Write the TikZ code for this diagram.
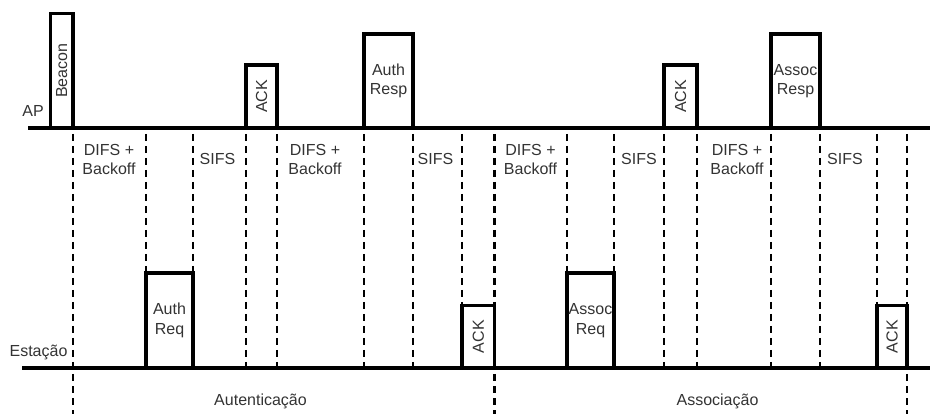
\documentclass[tikz,border=0pt]{standalone}
\usepackage{fontspec}
\setmainfont{Liberation Sans}

\begin{document}
\begin{tikzpicture}[x=1pt, y=-1pt,
  font=\fontsize{16}{19.5}\selectfont,
  axis/.style={line width=3.5pt},
  frame/.style={draw, line width=3.5pt, fill=white, inner sep=0pt, text=black!80, align=center},
  slot/.style={line width=2.5pt, dash pattern=on 7pt off 5pt},
  lbl/.style={text=black!80, inner sep=0pt, align=center}]

\useasboundingbox (0,0) rectangle (930,414);

% time axes
\coordinate (apL) at (28,128);
\coordinate (apR) at (930,128);
\coordinate (stL) at (22,368);
\coordinate (stR) at (930,368);
\draw[axis] (apL) -- (apR);
\draw[axis] (stL) -- (stR);

% interval marks (x / lower end)
\foreach \x/\y in {73/414, 146/273, 193/273, 246/368, 277/368, 364/368, 413/368,
                   462/305.5, 494.5/414, 567/273, 614/273, 664/368, 697/368,
                   771/368, 820/368, 877/305.5, 907/414}
  \draw[slot] (\x,134) -- (\x,\y);

% frames sent by the AP
\node[frame, minimum width=22.5pt, minimum height=114.5pt] (beacon) at (61.75,70.75) {\rotatebox{90}{Beacon}};
\node[frame, minimum width=31pt, minimum height=63pt] (ack1) at (261.5,96.5) {\rotatebox{90}{ACK}};
\node[frame, minimum width=49pt, minimum height=94pt] (authresp) at (388.5,81) {Auth\\Resp};
\node[frame, minimum width=33pt, minimum height=63pt] (ack3) at (680.5,96.5) {\rotatebox{90}{ACK}};
\node[frame, minimum width=49pt, minimum height=94pt] (assocresp) at (795.5,81) {Assoc\\Resp};

% frames sent by the station
\node[frame, minimum width=47pt, minimum height=95pt] (authreq) at (169.5,320.5) {Auth\\Req};
\node[frame, minimum width=32.5pt, minimum height=62.5pt] (ack2) at (478.25,336.75) {\rotatebox{90}{ACK}};
\node[frame, minimum width=47pt, minimum height=95pt] (assocreq) at (590.5,320.5) {Assoc\\Req};
\node[frame, minimum width=30pt, minimum height=62.5pt] (ack4) at (892,336.75) {\rotatebox{90}{ACK}};

% axis names
\node[lbl, anchor=base] (ap) at (33,117) {AP};
\node[lbl, anchor=base] (sta) at (38.5,356) {Estação};

% intervals
\node[lbl] (difs1) at (109,159.5) {DIFS +\\Backoff};
\node[lbl] (sifs1) at (217.5,159) {SIFS};
\node[lbl] (difs2) at (315,159.5) {DIFS +\\Backoff};
\node[lbl] (sifs2) at (435.5,159) {SIFS};
\node[lbl] (difs3) at (530.5,159.5) {DIFS +\\Backoff};
\node[lbl] (sifs3) at (639,159) {SIFS};
\node[lbl] (difs4) at (737,159.5) {DIFS +\\Backoff};
\node[lbl] (sifs4) at (845,159) {SIFS};

% phases
\node[lbl, anchor=base] (auth) at (260.5,405) {Autenticação};
\node[lbl, anchor=base] (assoc) at (717.5,405) {Associação};
\end{tikzpicture}
\end{document}
